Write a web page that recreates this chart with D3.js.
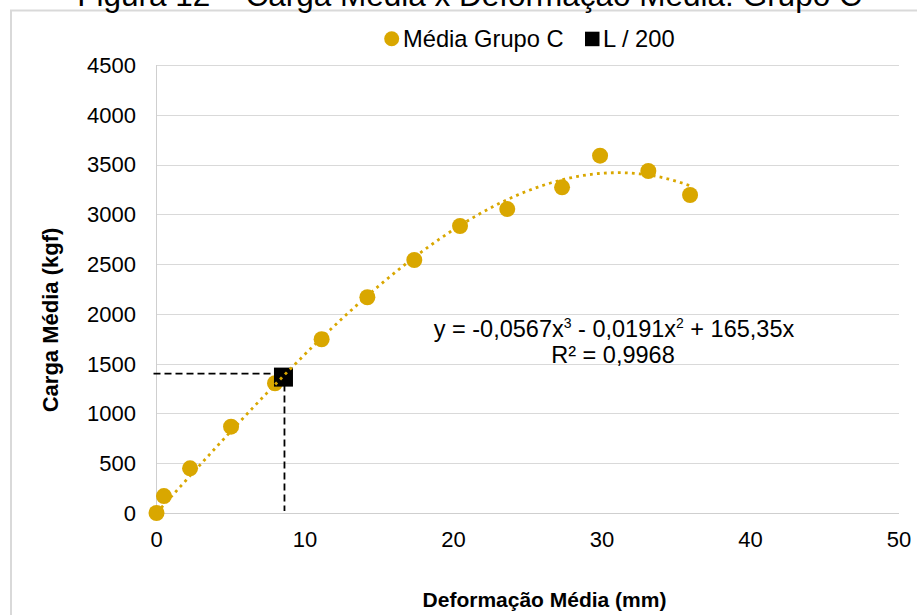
<!DOCTYPE html>
<html>
<head>
<meta charset="utf-8">
<script src="https://cdn.jsdelivr.net/npm/d3@7"></script>
<style>
  html, body { margin: 0; padding: 0; background: #fff; }
  svg { display: block; }
  text { font-family: "Liberation Sans", Arial, sans-serif; fill: #000; }
</style>
</head>
<body>
<svg id="chart" width="917" height="615"></svg>
<script>
// ---- data ----
const title = "Figura 12 – Carga Média x Deformação Média: Grupo C";
const seriesName = "Média Grupo C";
const refName = "L / 200";
const deformacao = [0, 0.5, 2.26, 5.02, 7.98, 11.12, 14.2, 17.36, 20.44, 23.62, 27.31, 29.87, 33.12, 35.93];
const carga = [0, 170, 449, 867, 1303, 1745, 2167, 2541, 2883, 3053, 3271, 3589, 3435, 3194];
const refPoint = [8.55, 1365];        // L / 200 marker
const refLevel = [8.55, 1400];        // dashed guide lines end
const trendCoef = [-0.0567, -0.0191, 165.35]; // x^3, x^2, x
const xTicks = [0, 10, 20, 30, 40, 50];
const yTicks = [0, 500, 1000, 1500, 2000, 2500, 3000, 3500, 4000, 4500];
const eqLine1 = ["y = -0,0567x", "3", " - 0,0191x", "2", " + 165,35x"];
const eqLine2 = "R² = 0,9968";
const xTitle = "Deformação Média (mm)";
const yTitle = "Carga Média (kgf)";

const gold = "#d9a700";
const svg = d3.select("#chart");

const x = d3.scaleLinear().domain([0, 50]).range([156.5, 899]);
const y = d3.scaleLinear().domain([0, 4500]).range([513, 65]);

// outer frame
svg.append("rect").attr("x", 11).attr("y", 10.5).attr("width", 920).attr("height", 620)
  .attr("fill", "none").attr("stroke", "#d9d9d9").attr("stroke-width", 2);

// title (clipped at top)
svg.append("text").attr("x", 469.5).attr("y", 6).attr("text-anchor", "middle")
  .style("font-size", "31.5px").text(title);

// gridlines
svg.append("g").selectAll("line").data(yTicks.filter(d => d > 0)).join("line")
  .attr("x1", x(0)).attr("x2", x(50))
  .attr("y1", d => Math.round(y(d)) + 0.5).attr("y2", d => Math.round(y(d)) + 0.5)
  .attr("stroke", "#d9d9d9").attr("stroke-width", 1);

// axes lines
svg.append("line").attr("x1", x(0)).attr("x2", x(0)).attr("y1", y(4500)).attr("y2", y(0))
  .attr("stroke", "#cfcfcf").attr("stroke-width", 1);
svg.append("line").attr("x1", x(0)).attr("x2", x(50)).attr("y1", y(0) + 0.5).attr("y2", y(0) + 0.5)
  .attr("stroke", "#cfcfcf").attr("stroke-width", 1);

// tick labels
svg.append("g").selectAll("text").data(yTicks).join("text")
  .attr("x", 136).attr("y", d => y(d) + 7.9).attr("text-anchor", "end")
  .style("font-size", "22px").text(d => d);
svg.append("g").selectAll("text").data(xTicks).join("text")
  .attr("x", d => x(d)).attr("y", 547).attr("text-anchor", "middle")
  .style("font-size", "22px").text(d => d);

// axis titles
svg.append("text").attr("x", 544.5).attr("y", 607).attr("text-anchor", "middle")
  .style("font-size", "21px").style("font-weight", "bold").text(xTitle);
svg.append("text").attr("transform", "translate(58,320) rotate(-90)").attr("text-anchor", "middle")
  .style("font-size", "22px").style("font-weight", "bold").text(yTitle);

// dashed guide lines
const dashG = svg.append("g").attr("stroke", "#000").attr("stroke-width", 1.8)
  .attr("stroke-dasharray", "7,4").attr("fill", "none");
dashG.append("line").attr("x1", x(0) - 3).attr("x2", x(refLevel[0]))
  .attr("y1", y(refLevel[1])).attr("y2", y(refLevel[1]));
dashG.append("line").attr("x1", x(refLevel[0]) + 1).attr("x2", x(refLevel[0]) + 1)
  .attr("y1", y(refLevel[1])).attr("y2", y(0) - 2);

// data points
const pts = deformacao.map((d, i) => [d, carga[i]]);
svg.append("g").selectAll("circle").data(pts).join("circle")
  .attr("cx", d => x(d[0])).attr("cy", d => y(d[1])).attr("r", 8).attr("fill", gold);

// L/200 marker
svg.append("rect").attr("x", x(refPoint[0]) - 9.5).attr("y", y(refPoint[1]) - 9.5)
  .attr("width", 19).attr("height", 19).attr("fill", "#000");

// polynomial trendline (from the chart's displayed equation)
const poly = v => trendCoef[0] * v * v * v + trendCoef[1] * v * v + trendCoef[2] * v;
const xMax = d3.max(deformacao);
const trend = d3.range(0, 201).map(i => { const v = xMax * i / 200; return [v, poly(v)]; });
svg.append("path").datum(trend)
  .attr("d", d3.line().x(d => x(d[0])).y(d => y(d[1])))
  .attr("fill", "none").attr("stroke", gold).attr("stroke-width", 2.8)
  .attr("stroke-dasharray", "2.8,4.2");

// equation
const eq = svg.append("text").attr("x", 614).attr("y", 337).attr("text-anchor", "middle")
  .style("font-size", "23.5px");
eqLine1.forEach((s, i) => {
  if (i % 2 === 1) {
    eq.append("tspan").attr("dy", -9).style("font-size", "14px").text(s);
  } else {
    eq.append("tspan").attr("dy", i === 0 ? 0 : 9).text(s);
  }
});
svg.append("text").attr("x", 613).attr("y", 363).attr("text-anchor", "middle")
  .style("font-size", "23.5px").text(eqLine2);

// legend
svg.append("circle").attr("cx", 391.7).attr("cy", 38.7).attr("r", 7.5).attr("fill", gold);
svg.append("text").attr("x", 403).attr("y", 46.7).style("font-size", "23.7px").text(seriesName);
svg.append("rect").attr("x", 585).attr("y", 31.7).attr("width", 14.5).attr("height", 14.5).attr("fill", "#000");
svg.append("text").attr("x", 603).attr("y", 46.7).style("font-size", "23.7px").text(refName);
</script>
</body>
</html>
